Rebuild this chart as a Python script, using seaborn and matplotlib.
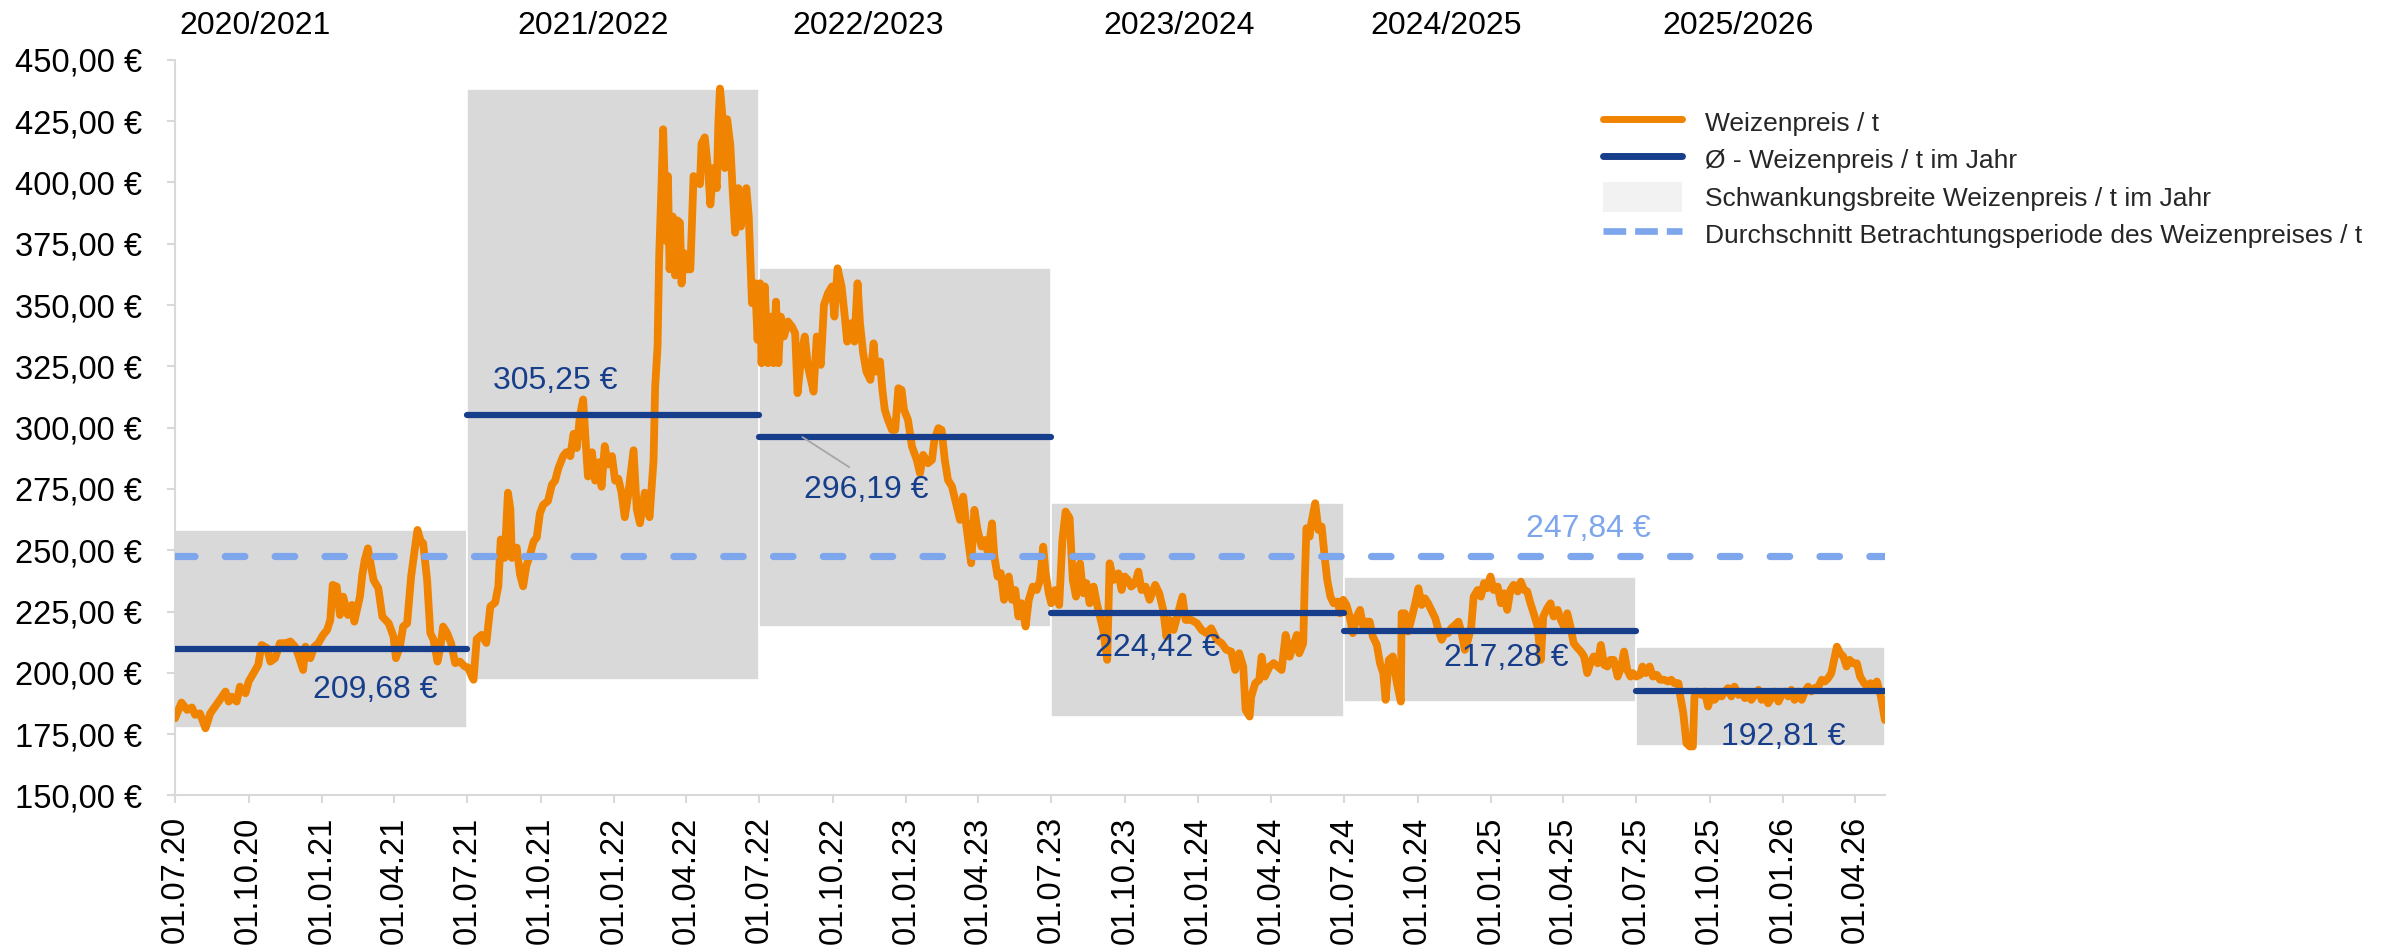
import matplotlib
matplotlib.use("Agg")
import matplotlib.pyplot as plt
import matplotlib.dates as mdates
from matplotlib.lines import Line2D
from matplotlib.patches import Patch
from matplotlib.ticker import FuncFormatter, MultipleLocator
import numpy as np
import pandas as pd
import seaborn as sns

# Data: day offset from 01.07.2020 and wheat price (EUR / t)
start = pd.Timestamp("2020-07-01")

days = [
    # 2020/2021
    0, 8, 15, 21, 25, 31, 38, 44, 50, 56, 63, 67, 71, 77, 81, 88, 92, 98, 104, 108,
    115, 119, 125, 131, 138, 144, 150, 154, 160, 163, 169, 174, 179, 185, 190, 194, 197, 202, 206, 210,
    216, 221, 224, 231, 234, 237, 241, 245, 248, 254, 259, 267, 273, 276, 281, 285, 290, 295, 300, 303,
    307, 310, 315, 319, 323, 328, 331, 335, 340, 345, 350, 356, 362,
    # 2021/2022
    366, 373, 377, 383, 389, 394, 400, 404, 407, 412, 416, 419, 421, 427, 431, 435, 439, 444, 448, 452,
    456, 460, 466, 471, 475, 479, 485, 489, 494, 498, 502, 506, 510, 514, 516, 521, 525, 530, 533, 537,
    541, 546, 550, 554, 558, 562, 566, 573, 577, 581, 587, 593, 598, 600, 603, 605, 608, 610, 612, 614,
    616, 618, 622, 625, 628, 631, 633, 636, 639, 644, 648, 652, 656, 658, 662, 666, 669, 673, 677, 679,
    681, 684, 687, 690, 694, 697, 700, 704, 707, 709, 714, 717,
    # 2022/2023
    721, 725, 728, 731, 733, 737, 741, 745, 748, 751, 754, 757, 761, 766, 771, 775, 778, 783, 787, 791,
    798, 802, 807, 811, 816, 821, 824, 828, 833, 837, 840, 845, 849, 853, 856, 860, 864, 869, 873, 876,
    881, 884, 887, 891, 896, 900, 904, 908, 911, 916, 921, 927, 931, 935, 941, 946, 949, 954, 958, 962,
    966, 971, 977, 981, 985, 989, 995, 999, 1003, 1008, 1012, 1016, 1021, 1024, 1028, 1032, 1036, 1042, 1046, 1050,
    1054, 1058, 1063, 1067, 1072, 1077, 1081, 1085, 1088, 1092,
    # 2023/2024
    1095, 1100, 1105, 1109, 1113, 1118, 1122, 1126, 1131, 1135, 1139, 1143, 1148, 1152, 1156, 1160, 1165, 1168, 1173, 1179,
    1183, 1187, 1191, 1195, 1200, 1204, 1208, 1213, 1218, 1225, 1230, 1235, 1239, 1243, 1248, 1254, 1259, 1263, 1270, 1277,
    1283, 1289, 1295, 1302, 1308, 1314, 1320, 1325, 1330, 1335, 1338, 1343, 1345, 1350, 1355, 1358, 1362, 1368, 1373, 1378,
    1383, 1388, 1393, 1397, 1402, 1405, 1410, 1412, 1414, 1418, 1420, 1425, 1429, 1433, 1437, 1440, 1444, 1448, 1453, 1456,
    1460,
    # 2024/2025
    1464, 1468, 1472, 1477, 1481, 1485, 1489, 1493, 1497, 1502, 1506, 1510, 1513, 1517, 1522, 1527, 1532, 1533, 1537, 1541,
    1545, 1550, 1554, 1558, 1562, 1566, 1570, 1575, 1579, 1583, 1587, 1591, 1595, 1600, 1604, 1608, 1612, 1616, 1620, 1623,
    1628, 1632, 1636, 1640, 1644, 1648, 1653, 1657, 1661, 1665, 1669, 1673, 1678, 1682, 1686, 1690, 1694, 1698, 1703, 1707,
    1710, 1715, 1719, 1723, 1728, 1732, 1736, 1740, 1744, 1748, 1753, 1757, 1761, 1765, 1769, 1773, 1778, 1782, 1786, 1790,
    1794, 1798, 1803, 1807, 1811, 1815, 1819, 1822,
    # 2025/2026
    1826, 1831, 1834, 1838, 1843, 1847, 1852, 1856, 1861, 1866, 1870, 1874, 1879, 1881, 1885, 1889, 1893, 1897, 1899, 1902,
    1908, 1912, 1916, 1920, 1924, 1929, 1933, 1937, 1941, 1945, 1949, 1954, 1958, 1962, 1966, 1970, 1974, 1979, 1983, 1987,
    1991, 1995, 1999, 2004, 2008, 2012, 2016, 2020, 2024, 2029, 2033, 2037, 2041, 2045, 2049, 2054, 2058, 2062, 2066, 2070,
    2077, 2081, 2085, 2089, 2093, 2097, 2102, 2106, 2111, 2115, 2119, 2123, 2127, 2132, 2137,
]

price = [
    # 2020/2021
    181.5, 187.9, 184.9, 185.9, 182.9, 183.5, 177.4, 183.5, 186.3, 189.0, 192.4, 188.3, 190.3, 188.3, 194.4, 191.7, 196.5, 199.9, 203.3, 211.4,
    210.1, 204.6, 206.0, 212.1, 212.1, 212.8, 210.7, 207.3, 201.2, 210.7, 206.0, 210.7, 212.1, 215.5, 217.5, 221.6, 235.9, 235.2, 223.6, 231.1,
    223.6, 227.7, 220.9, 231.1, 240.0, 246.1, 250.8, 243.4, 237.9, 234.5, 223.0, 220.2, 214.8, 206.0, 210.7, 218.9, 220.2, 239.3, 251.5, 258.3,
    253.6, 252.9, 237.9, 216.2, 213.5, 204.6, 209.4, 218.9, 216.2, 212.1, 204.0, 204.6, 202.6,
    # 2021/2022
    202.2, 197.2, 213.8, 215.5, 212.2, 227.1, 228.7, 235.3, 254.4, 246.9, 273.5, 266.8, 246.9, 251.1, 240.3, 235.3, 243.6, 248.6, 253.6, 255.2,
    265.1, 268.5, 270.1, 276.8, 278.4, 283.4, 288.4, 290.0, 288.4, 297.5, 291.7, 304.9, 311.5, 290.0, 280.1, 290.0, 278.4, 285.9, 275.9, 292.5,
    285.0, 288.4, 278.4, 279.2, 273.5, 263.5, 271.8, 290.8, 266.8, 261.0, 273.5, 263.5, 286.7, 316.5, 333.1, 369.5, 399.3, 421.7, 399.3, 376.1,
    402.6, 364.6, 386.1, 362.1, 384.5, 383.6, 358.8, 371.2, 364.6, 364.6, 402.6, 401.0, 399.3, 415.9, 418.4, 405.9, 391.0, 405.9, 397.7, 424.2,
    438.3, 427.5, 405.9, 425.8, 415.1, 396.0, 379.5, 397.7, 382.0, 386.1, 397.7, 386.1,
    # 2022/2023
    350.8, 358.9, 335.8, 358.9, 326.3, 357.6, 326.3, 345.3, 326.3, 351.4, 326.3, 345.3, 337.2, 343.3, 341.2, 338.5, 314.1, 330.4, 337.2, 324.9,
    314.7, 337.2, 325.6, 350.1, 354.8, 357.6, 345.3, 365.0, 357.6, 345.3, 335.1, 342.6, 335.1, 358.9, 342.6, 330.4, 322.9, 319.5, 334.4, 322.9,
    327.0, 315.4, 307.3, 303.2, 299.1, 299.1, 316.1, 315.4, 307.3, 303.2, 292.3, 286.9, 281.4, 288.9, 285.5, 286.9, 295.0, 299.8, 299.1, 286.9,
    278.7, 276.0, 267.8, 262.4, 271.9, 259.7, 244.7, 266.5, 258.3, 251.5, 254.2, 248.8, 261.0, 247.4, 239.3, 240.7, 229.8, 239.3, 229.8, 233.8,
    223.0, 228.4, 218.9, 229.8, 235.2, 233.8, 237.9, 251.5, 240.7, 232.5,
    # 2023/2024
    228.4, 233.8, 227.7, 254.2, 265.8, 263.1, 237.9, 231.1, 244.7, 232.5, 236.6, 228.4, 235.2, 228.4, 223.0, 217.5, 205.3, 244.7, 237.9, 240.6,
    233.8, 239.3, 237.9, 235.2, 236.6, 241.3, 233.8, 235.2, 229.8, 235.9, 232.5, 225.7, 214.8, 221.6, 217.5, 225.0, 231.1, 221.6, 221.6, 220.3,
    217.5, 216.2, 218.2, 213.5, 212.1, 209.4, 208.7, 201.2, 208.0, 202.6, 184.9, 182.2, 190.3, 195.8, 197.1, 206.6, 198.5, 202.6, 204.0, 202.6,
    201.2, 215.5, 206.6, 210.7, 215.5, 208.0, 212.1, 237.9, 259.0, 255.6, 261.0, 269.2, 258.3, 259.7, 246.7, 237.9, 231.1, 228.4, 229.1, 224.3,
    229.8,
    # 2024/2025
    227.7, 223.0, 216.2, 223.0, 225.7, 218.9, 220.9, 220.9, 214.8, 211.4, 203.9, 199.9, 189.0, 205.3, 206.7, 195.8, 188.3, 224.3, 224.3, 216.9,
    221.6, 228.4, 234.5, 227.7, 230.4, 228.4, 225.7, 222.3, 217.5, 213.5, 216.2, 216.2, 218.2, 219.6, 220.9, 216.2, 209.4, 213.5, 218.9, 231.1,
    233.8, 231.1, 236.6, 234.5, 239.3, 233.8, 235.2, 228.4, 232.5, 225.7, 233.8, 235.9, 233.2, 237.2, 233.8, 233.2, 228.4, 224.3, 218.9, 205.3,
    223.0, 226.4, 228.4, 223.0, 225.7, 221.6, 218.9, 224.3, 218.9, 212.1, 210.1, 208.7, 206.7, 199.9, 203.9, 206.7, 203.9, 211.4, 203.3, 202.6,
    205.3, 205.3, 198.5, 201.9, 208.7, 201.2, 198.5, 199.9,
    # 2025/2026
    198.5, 199.2, 202.6, 199.9, 202.6, 198.5, 199.2, 197.2, 197.2, 196.5, 197.2, 195.8, 195.8, 191.0, 183.6, 171.3, 170.0, 170.0, 190.4, 192.4,
    191.0, 192.4, 186.3, 191.0, 189.0, 191.0, 190.4, 192.4, 193.8, 190.4, 194.4, 191.0, 192.4, 189.7, 191.7, 189.0, 191.0, 193.1, 189.0, 191.0,
    187.6, 189.7, 192.4, 188.3, 191.0, 192.4, 190.4, 193.1, 189.0, 192.4, 189.0, 192.4, 194.4, 192.4, 193.8, 194.4, 197.2, 196.5, 197.8, 199.9,
    210.7, 208.0, 206.7, 202.6, 205.3, 203.9, 203.9, 198.5, 195.8, 194.4, 195.8, 194.4, 196.5, 190.4, 180.8,
]

seasons = ["2020/2021", "2021/2022", "2022/2023", "2023/2024", "2024/2025", "2025/2026"]
season_bounds = ["2020-07-01", "2021-07-01", "2022-07-01", "2023-07-01", "2024-07-01", "2025-07-01", "2026-05-08"]
season_mean = [209.68, 305.25, 296.19, 224.42, 217.28, 192.81]
period_mean = 247.84

# label positions (day offset, price) for the mean value texts and the season titles
mean_label_day = [250, 475, 864, 1228, 1664, 2010]
mean_label_val = [193.1, 319.1, 274.6, 210.1, 206.0, 174.0]
season_label_day = [100, 522, 866, 1255, 1588, 1954]

ORANGE = "#F08300"
NAVY = "#173E8B"
LIGHTBLUE = "#7EA6EC"
GREY = "#D9D9D9"

df = pd.DataFrame({"date": start + pd.to_timedelta(days, unit="D"), "price": price})
bounds = pd.to_datetime(season_bounds)
df["season"] = pd.cut(df["date"], bins=bounds, labels=seasons, right=False, include_lowest=True)
df.loc[df["date"] == bounds[-1], "season"] = seasons[-1]
rng = df.groupby("season", observed=False)["price"].agg(["min", "max"])

sns.set_theme(style="white")
plt.rcParams["font.family"] = ["Liberation Sans", "DejaVu Sans"]

fig = plt.figure(figsize=(23.92, 9.46), dpi=100)
ax = fig.add_axes([0.0732, 0.1591, 0.7148, 0.7776])

# Schwankungsbreite boxes
for i, s in enumerate(seasons):
    ax.fill_between([bounds[i], bounds[i + 1]], rng.loc[s, "min"], rng.loc[s, "max"],
                    color=GREY, edgecolor="white", linewidth=1.2, zorder=1)

sns.lineplot(data=df, x="date", y="price", ax=ax, color=ORANGE, linewidth=5.6,
             solid_joinstyle="round", solid_capstyle="round", zorder=3)

# yearly means
for i, m in enumerate(season_mean):
    ln = ax.hlines(m, bounds[i], bounds[i + 1], color=NAVY, linewidth=4.5, zorder=4)
    ln.set_capstyle("round")

ax.axhline(period_mean, color=LIGHTBLUE, linewidth=5.2, dashes=(2.7, 4.2),
           dash_capstyle="round", zorder=5)

# labels
for i, m in enumerate(season_mean):
    txt = f"{m:.2f} €".replace(".", ",")
    x = mdates.date2num(start + pd.Timedelta(days=mean_label_day[i]))
    if i == 2:
        xy = mdates.date2num(start + pd.Timedelta(days=784))
        ax.annotate(txt, xy=(xy, m), xytext=(x, mean_label_val[i]), ha="center", va="center",
                    fontsize=23, color=NAVY, zorder=6,
                    arrowprops=dict(arrowstyle="-", color="#A6A6A6", lw=1.3,
                                    relpos=(0.46, 1.0), shrinkA=6, shrinkB=0))
    else:
        ax.text(x, mean_label_val[i], txt, ha="center", va="center", fontsize=23, color=NAVY, zorder=6)

ax.text(mdates.date2num(start + pd.Timedelta(days=1767)), 258.6,
        f"{period_mean:.2f} €".replace(".", ","), ha="center", va="center",
        fontsize=23, color=LIGHTBLUE, zorder=6)

for i, s in enumerate(seasons):
    x = mdates.date2num(start + pd.Timedelta(days=season_label_day[i]))
    ax.text(x, 1.046, s, transform=ax.get_xaxis_transform(), ha="center", va="center",
            fontsize=23, color="black")

# axes
ax.set_xlim(bounds[0], bounds[-1])
ax.set_ylim(150, 450)
ax.yaxis.set_major_locator(MultipleLocator(25))
ax.yaxis.set_major_formatter(FuncFormatter(lambda v, p: f"{v:.2f} €".replace(".", ",")))
ax.xaxis.set_major_locator(mdates.MonthLocator(bymonth=[1, 4, 7, 10], bymonthday=1))
ax.xaxis.set_major_formatter(mdates.DateFormatter("%d.%m.%y"))
ax.set_xlabel("")
ax.set_ylabel("")
ax.grid(False)

for side in ["top", "right"]:
    ax.spines[side].set_visible(False)
for side in ["left", "bottom"]:
    ax.spines[side].set_color(GREY)
    ax.spines[side].set_linewidth(1.5)

ax.tick_params(axis="y", which="major", left=True, length=6, width=1.5, color=GREY,
               labelsize=23.5, labelcolor="black", pad=18)
ax.tick_params(axis="x", which="major", bottom=True, length=6, width=1.5, color=GREY,
               labelsize=23.5, labelcolor="black", pad=9, labelrotation=90)

handles = [
    Line2D([], [], color=ORANGE, linewidth=5.0),
    Line2D([], [], color=NAVY, linewidth=5.0),
    Patch(facecolor="#F2F2F2", edgecolor="none"),
    Line2D([], [], color=LIGHTBLUE, linewidth=4.8, dashes=(3.4, 1.35)),
]
labels = [
    "Weizenpreis / t",
    "Ø - Weizenpreis / t im Jahr",
    "Schwankungsbreite Weizenpreis / t im Jahr",
    "Durchschnitt Betrachtungsperiode des Weizenpreises / t",
]
fig.legend(handles, labels, loc="upper left", bbox_to_anchor=(0.6701, 0.8865),
           frameon=False, fontsize=19, handlelength=3.0, handleheight=1.35,
           handletextpad=0.87, labelspacing=0.29, borderpad=0, borderaxespad=0)

fig.savefig("out.png", dpi=100)
